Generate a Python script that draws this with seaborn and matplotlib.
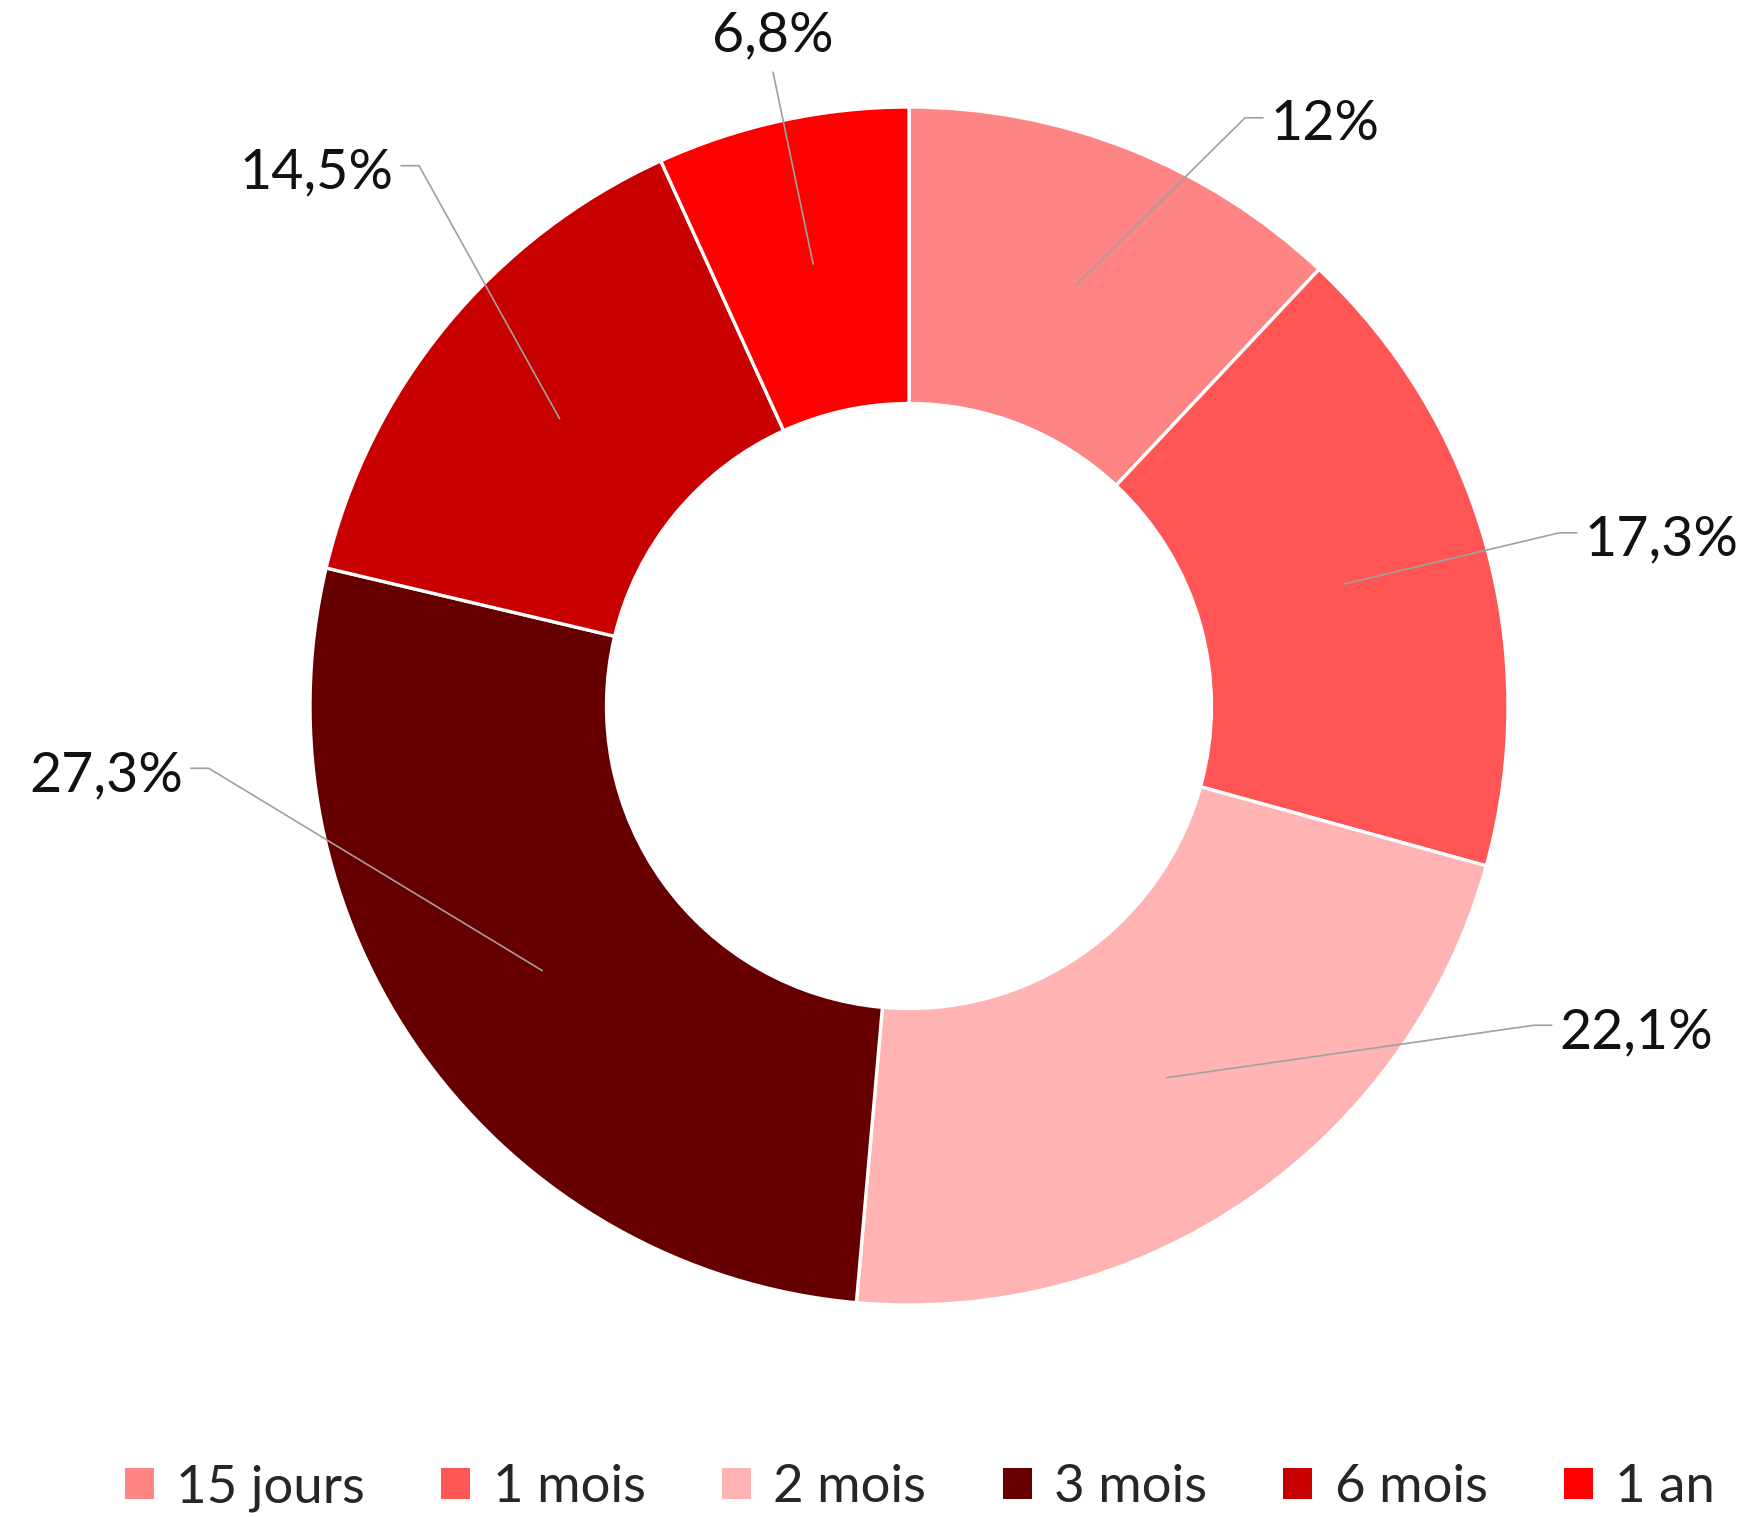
import numpy as np
import seaborn as sns
import matplotlib
matplotlib.use("Agg")
import matplotlib.pyplot as plt
from matplotlib.patches import Patch

# data
categories = ['15 jours', '1 mois', '2 mois', '3 mois', '6 mois', '1 an']
values = [12.0, 17.3, 22.1, 27.3, 14.5, 6.8]
value_labels = ['12%', '17,3%', '22,1%', '27,3%', '14,5%', '6,8%']
slice_colors = ['#FF8585', '#FF5555', '#FFB3B3', '#660000', '#C80000', '#FF0000']

# where each leader line bends (data units, pie radius = 1) and where the text sits
label_elbow = [(0.561, 0.982), (1.085, 0.289), (1.043, -0.533),
               (-1.169, -0.104), (-0.818, 0.902), (-0.227, 1.058)]
label_side = ['right', 'right', 'right', 'left', 'left', 'top']

sns.set_theme(style='white')
plt.rcParams['font.family'] = ['Lato', 'DejaVu Sans']

fig = plt.figure(figsize=(17.56, 15.17), dpi=100)
ax = fig.add_axes([0, 0, 1, 1])

palette = sns.color_palette(slice_colors)
wedges, _ = ax.pie(values, colors=palette, startangle=90, counterclock=False,
                   radius=1.0,
                   wedgeprops=dict(width=0.495, edgecolor='white', linewidth=2.4))

# axes limits so the ring sits where it is in the reference
ax.set_xlim(-909 / 599, (1756 - 909) / 599)
ax.set_ylim(-(1517 - 706) / 599, 706 / 599)
ax.set_aspect('equal')
ax.axis('off')

# data labels with grey leader lines
cum = np.cumsum([0] + values[:-1])
line_col = '#A0A0A0'
stub = 0.03
gap = 0.012
drop = 0.012  # text sits a touch below the stub
for v, c, txt, (ex, ey), side in zip(values, cum, value_labels, label_elbow, label_side):
    theta = np.deg2rad(90 - 360 * (c + v / 2) / 100)
    ax_, ay_ = 0.755 * np.cos(theta), 0.755 * np.sin(theta)
    if side == 'right':
        ax.plot([ax_, ex, ex + stub], [ay_, ey, ey], color=line_col, lw=1.2)
        ax.text(ex + stub + gap, ey - drop, txt, ha='left', va='center', fontsize=40, color='#111111')
    elif side == 'left':
        ax.plot([ax_, ex, ex - stub], [ay_, ey, ey], color=line_col, lw=1.2)
        ax.text(ex - stub - gap, ey - drop, txt, ha='right', va='center', fontsize=40, color='#111111')
    else:
        ax.plot([ax_, ex], [ay_, ey], color=line_col, lw=1.2)
        ax.text(ex, ey + 0.018, txt, ha='center', va='bottom', fontsize=40, color='#111111')

# legend along the bottom
handles = [Patch(facecolor=col, edgecolor='none') for col in palette]
fig.legend(handles, categories, loc='center', ncol=6, frameon=False,
           bbox_to_anchor=(920 / 1756, 1 - 1488 / 1517), fontsize=38,
           handlelength=0.55, handleheight=0.55, handletextpad=0.42,
           columnspacing=1.45, borderaxespad=0)

fig.savefig('out.png', dpi=100)
